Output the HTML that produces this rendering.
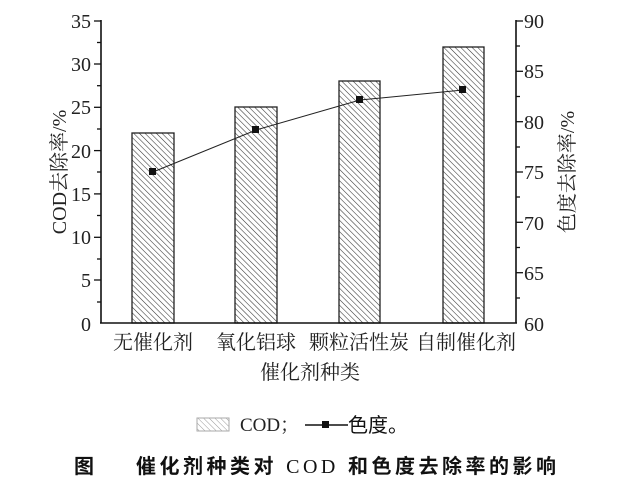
<!DOCTYPE html>
<html><head><meta charset="utf-8"><style>
body{margin:0;background:#fff;width:634px;height:489px;overflow:hidden}
</style></head><body>
<svg width="634" height="489" xmlns="http://www.w3.org/2000/svg" font-family="Liberation Serif, Noto Serif CJK SC, serif">
<defs>
<pattern id="h" width="4" height="4" patternUnits="userSpaceOnUse" patternTransform="rotate(-45)">
<rect width="4" height="4" fill="#fff"/><line x1="0" y1="0" x2="0" y2="4" stroke="#333" stroke-width="1.1"/>
</pattern>
<pattern id="h2" width="4" height="4" patternUnits="userSpaceOnUse" patternTransform="rotate(-45)">
<rect width="4" height="4" fill="#fff"/><line x1="0" y1="0" x2="0" y2="4" stroke="#999" stroke-width="1"/>
</pattern>
</defs>
<g stroke="#222" stroke-width="1.3">
<rect x="132" y="133" width="42" height="190" fill="url(#h)"/>
<rect x="235" y="107" width="42" height="216" fill="url(#h)"/>
<rect x="339" y="81" width="41" height="242" fill="url(#h)"/>
<rect x="443" y="47" width="41" height="276" fill="url(#h)"/>
</g>
<polyline points="153,172 256,130 360,100 463,90" fill="none" stroke="#222" stroke-width="1"/>
<g fill="#111">
<rect x="149" y="168" width="7" height="7"/><rect x="252" y="126" width="7" height="7"/>
<rect x="356" y="96" width="7" height="7"/><rect x="459" y="86" width="7" height="7"/>
</g>
<g stroke="#111" stroke-width="1.6" fill="none">
<line x1="101" y1="20" x2="101" y2="323"/>
<line x1="516" y1="20" x2="516" y2="323"/>
<line x1="100" y1="323" x2="517" y2="323"/>
</g>
<g stroke="#111" stroke-width="1.3">
<line x1="94" y1="21" x2="101" y2="21"/><line x1="97" y1="42.5" x2="101" y2="42.5"/>
<line x1="94" y1="64" x2="101" y2="64"/><line x1="97" y1="85.7" x2="101" y2="85.7"/>
<line x1="94" y1="107.3" x2="101" y2="107.3"/><line x1="97" y1="129" x2="101" y2="129"/>
<line x1="94" y1="150.6" x2="101" y2="150.6"/><line x1="97" y1="172" x2="101" y2="172"/>
<line x1="94" y1="193.9" x2="101" y2="193.9"/><line x1="97" y1="215.5" x2="101" y2="215.5"/>
<line x1="94" y1="237.3" x2="101" y2="237.3"/><line x1="97" y1="259" x2="101" y2="259"/>
<line x1="94" y1="280" x2="101" y2="280"/><line x1="97" y1="302" x2="101" y2="302"/>
<line x1="516" y1="21" x2="523" y2="21"/><line x1="516" y1="46" x2="520" y2="46"/>
<line x1="516" y1="71.3" x2="523" y2="71.3"/><line x1="516" y1="96.5" x2="520" y2="96.5"/>
<line x1="516" y1="121.7" x2="523" y2="121.7"/><line x1="516" y1="147" x2="520" y2="147"/>
<line x1="516" y1="172" x2="523" y2="172"/><line x1="516" y1="197" x2="520" y2="197"/>
<line x1="516" y1="222.3" x2="523" y2="222.3"/><line x1="516" y1="247.5" x2="520" y2="247.5"/>
<line x1="516" y1="272.7" x2="523" y2="272.7"/><line x1="516" y1="298" x2="520" y2="298"/>
</g>
<g font-size="20" fill="#222" text-anchor="end">
<text x="91" y="28">35</text><text x="91" y="71">30</text><text x="91" y="114">25</text>
<text x="91" y="158">20</text><text x="91" y="201">15</text><text x="91" y="244">10</text>
<text x="91" y="287">5</text><text x="91" y="331">0</text>
</g>
<g font-size="20" fill="#222">
<text x="524" y="28">90</text><text x="524" y="78">85</text><text x="524" y="129">80</text>
<text x="524" y="179">75</text><text x="524" y="230">70</text><text x="524" y="280">65</text>
<text x="524" y="331">60</text>
</g>
<text transform="translate(66,172) rotate(-90)" text-anchor="middle" font-size="20" fill="#222">COD去除率/%</text>
<text transform="translate(574,172) rotate(-90)" text-anchor="middle" font-size="20" fill="#222">色度去除率/%</text>
<g font-size="20" fill="#222" text-anchor="middle">
<text x="153" y="349">无催化剂</text><text x="256" y="349">氧化铝球</text>
<text x="359" y="349">颗粒活性炭</text><text x="466" y="349">自制催化剂</text>
<text x="310" y="379">催化剂种类</text>
</g>
<rect x="197" y="418" width="32" height="13" fill="url(#h2)" stroke="#aaa"/>
<text x="240" y="431" font-size="19" fill="#222">COD；</text>
<line x1="305" y1="425" x2="348" y2="425" stroke="#111" stroke-width="1.5"/>
<rect x="322" y="421" width="7" height="7" fill="#111"/>
<text x="348" y="432" font-size="20" fill="#111" font-family="Liberation Sans, Noto Sans CJK SC, sans-serif">色度。</text>
<text x="74" y="473" font-size="20" fill="#111" font-weight="bold" font-family="Liberation Sans, Noto Sans CJK SC, sans-serif">图</text>
<text x="136" y="473" font-size="20" fill="#111" font-weight="bold" textLength="420" lengthAdjust="spacing" font-family="Liberation Sans, Noto Sans CJK SC, sans-serif">催化剂种类对 <tspan font-family="Liberation Serif, serif" font-weight="normal">COD</tspan> 和色度去除率的影响</text>
</svg>
</body></html>
